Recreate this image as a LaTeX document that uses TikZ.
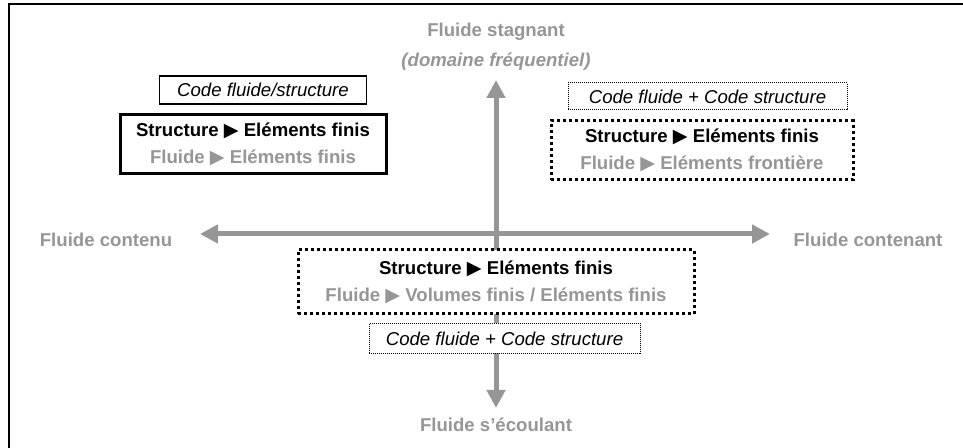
\documentclass[tikz,border=0pt]{standalone}
\usepackage{fontspec}
\setmainfont{Liberation Sans}
\newfontfamily\trifont{DejaVu Sans}
\newcommand{\pointer}{{\trifont\fontsize{9.6}{13.5}\selectfont ▶}}
\usepackage{tikz}
\usetikzlibrary{arrows.meta}
\definecolor{axisgray}{RGB}{150,150,150}

\begin{document}
\begin{tikzpicture}[x=0.5pt, y=-0.5pt,
  axis/.style={line width=2.5pt, axisgray, {Triangle[width=9pt,length=9pt]}-{Triangle[width=9pt,length=9pt]}},
  axislabel/.style={text=axisgray, font=\fontsize{9.3}{13.5}\selectfont\bfseries},
  codebox/.style={draw, fill=white, inner sep=0pt, font=\fontsize{9.3}{13.5}\selectfont\itshape},
  methodbox/.style={draw, fill=white, inner sep=0pt, align=center, font=\fontsize{9.3}{13.5}\selectfont\bfseries},
  thindots/.style={line width=0.5pt, dash pattern=on 0.5pt off 0.5pt},
  thickdots/.style={line width=1.5pt, dash pattern=on 1.5pt off 1.5pt}]
\useasboundingbox (0,0) rectangle (963,448);

% frame
\draw [line width=1pt] (9,448) -- (9,4) -- (963,4);

% axes
\coordinate (west) at (200,234);
\coordinate (east) at (770,234);
\coordinate (north) at (496,80);
\coordinate (south) at (496,408);
\draw [axis] (west) -- (east);
\draw [axis] (north) -- (south);

% axis labels
\node [axislabel] (stagnant) at (496,32) {Fluide stagnant};
\node [axislabel, font=\fontsize{9.3}{13.5}\selectfont\bfseries\itshape] (frequentiel) at (496,62) {(domaine fréquentiel)};
\node [axislabel] (contenu) at (106,240) {Fluide contenu};
\node [axislabel] (contenant) at (868,240) {Fluide contenant};
\node [axislabel] (ecoulant) at (496,425) {Fluide s'écoulant};

% top left
\node [codebox, line width=0.7pt, minimum width=103.5pt, minimum height=14pt] (codeA) at (263,90) {Code fluide/structure};
\node [methodbox, line width=1.5pt, minimum width=133pt, minimum height=29.5pt] (methA) at (253,144.5)
  {Structure \pointer{} Eléments finis\\\textcolor{axisgray}{Fluide \pointer{} Eléments finis}};

% top right
\node [codebox, thindots, minimum width=139.5pt, minimum height=13.5pt] (codeB) at (707.5,96.5) {Code fluide + Code structure};
\node [methodbox, thickdots, minimum width=151pt, minimum height=29.5pt] (methB) at (702,150.5)
  {Structure \pointer{} Eléments finis\\\textcolor{axisgray}{Fluide \pointer{} Eléments frontière}};

% bottom
\node [methodbox, thickdots, minimum width=198pt, minimum height=32pt] (methC) at (496,282)
  {Structure \pointer{} Eléments finis\\\textcolor{axisgray}{Fluide \pointer{} Volumes finis / Eléments finis}};
\node [codebox, thindots, minimum width=135.5pt, minimum height=15pt] (codeC) at (504.5,338.5) {Code fluide + Code structure};

\end{tikzpicture}
\end{document}
